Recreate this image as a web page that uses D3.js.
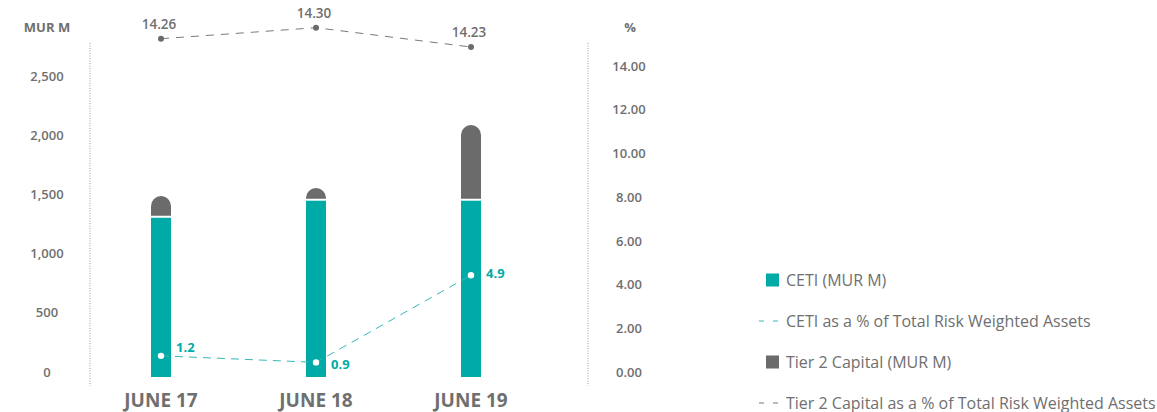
<!DOCTYPE html>
<html>
<head>
<meta charset="utf-8">
<script src="https://cdn.jsdelivr.net/npm/d3@7/dist/d3.min.js"></script>
<style>
  body { margin: 0; background: #fff; }
  text { font-family: "Open Sans", sans-serif; }
</style>
</head>
<body>
<div id="chart"></div>
<script>
// data
const periods = ["JUNE 17", "JUNE 18", "JUNE 19"];
const cetiValues = [1345, 1489, 1489];          // MUR M
const tier2Values = [184, 107, 639];            // MUR M
const cetiPct = [1.2, 0.9, 4.9];
const tier2Pct = [14.26, 14.30, 14.23];
const leftTicks = [0, 500, 1000, 1500, 2000, 2500];
const rightTicks = [0, 2, 4, 6, 8, 10, 12, 14];
const legendItems = [
  { label: "CETI (MUR M)", type: "box", color: "#00aaa6" },
  { label: "CETI as a % of Total Risk Weighted Assets", type: "dash", color: "#37b9b6" },
  { label: "Tier 2 Capital (MUR M)", type: "box", color: "#6b6b6b" },
  { label: "Tier 2 Capital as a % of Total Risk Weighted Assets", type: "dash", color: "#7a7a7a" }
];

var width = 1157, height = 412;
var teal = "#00aaa6", grey = "#6b6b6b", textGrey = "#6f6f6f";

var svg = d3.select("#chart").append("svg")
  .attr("width", width)
  .attr("height", height);

// scales
var x = d3.scalePoint().domain(periods).range([161, 471]);
var yL = d3.scaleLinear().domain([0, 2500]).range([377, 81]);
var yR = d3.scaleLinear().domain([0, 14]).range([377, 71]);
// the two % lines sit on their own (unlabelled) scales in the original
var yCeti = d3.scaleLinear().domain([0, 5]).range([382, 273]);
var yTier2 = d3.scaleLinear().domain([14.2, 14.3]).range([55.3, 27.7]);

var barW = 20;

// dotted axis lines
[90, 588].forEach(function (xx) {
  svg.append("line")
    .attr("x1", xx).attr("x2", xx)
    .attr("y1", 43).attr("y2", 386)
    .attr("stroke", "#9a9a9a")
    .attr("stroke-width", 1)
    .attr("stroke-dasharray", "1,1.5");
});

// left axis
var gL = svg.append("g").call(d3.axisLeft(yL).tickValues(leftTicks).tickSize(0).tickFormat(d3.format(",")));
gL.select(".domain").remove();
gL.selectAll("text")
  .attr("x", 47).attr("y", -5)
  .attr("text-anchor", "middle")
  .style("font-family", "'Open Sans', sans-serif")
  .style("font-size", "13px")
  .style("font-weight", 600)
  .attr("fill", textGrey);

// right axis
var gR = svg.append("g").call(d3.axisRight(yR).tickValues(rightTicks).tickSize(0).tickFormat(d3.format(".2f")));
gR.select(".domain").remove();
gR.selectAll("text")
  .attr("x", 629).attr("y", -5)
  .attr("text-anchor", "middle")
  .style("font-family", "'Open Sans', sans-serif")
  .style("font-size", "13px")
  .style("font-weight", 600)
  .attr("fill", textGrey);

// axis titles
svg.append("text").attr("x", 47).attr("y", 32).attr("text-anchor", "middle")
  .attr("font-size", 13).attr("font-weight", 700).attr("fill", textGrey).text("MUR M");
svg.append("text").attr("x", 630).attr("y", 32).attr("text-anchor", "middle")
  .attr("font-size", 13).attr("font-weight", 700).attr("fill", textGrey).text("%");

// category labels
svg.selectAll(".cat").data(periods).enter().append("text")
  .attr("class", "cat")
  .attr("x", function (d) { return x(d); })
  .attr("y", 407)
  .attr("text-anchor", "middle")
  .attr("font-size", 19).attr("font-weight", 700)
  .attr("fill", textGrey)
  .text(function (d) { return d; });

// CETI bars
svg.selectAll(".ceti").data(cetiValues).enter().append("rect")
  .attr("class", "ceti")
  .attr("x", function (d, i) { return x(periods[i]) - barW / 2; })
  .attr("y", function (d) { return yL(d); })
  .attr("width", barW)
  .attr("height", function (d) { return yL(0) - yL(d); })
  .attr("fill", teal);

// Tier 2 bars, stacked with a small white gap and rounded top
svg.selectAll(".tier2").data(tier2Values).enter().append("path")
  .attr("class", "tier2")
  .attr("fill", grey)
  .attr("d", function (d, i) {
    var x0 = x(periods[i]) - barW / 2, x1 = x0 + barW;
    var bottom = yL(cetiValues[i]) - 2;
    var top = yL(cetiValues[i] + d);
    var r = barW / 2;
    var ry = Math.min(r, bottom - top);
    return "M" + x0 + "," + bottom +
      "L" + x0 + "," + (top + ry) +
      "A" + r + "," + ry + " 0 0 1 " + x1 + "," + (top + ry) +
      "L" + x1 + "," + bottom + "Z";
  });

// CETI % line
var cetiLine = d3.line()
  .x(function (d, i) { return x(periods[i]); })
  .y(function (d) { return yCeti(d); });

svg.append("path")
  .datum(cetiPct)
  .attr("fill", "none")
  .attr("stroke", "#37b9b6")
  .attr("stroke-width", 1)
  .attr("stroke-dasharray", "8,6")
  .attr("d", cetiLine);

svg.selectAll(".cetiDot").data(cetiPct).enter().append("circle")
  .attr("cx", function (d, i) { return x(periods[i]); })
  .attr("cy", function (d) { return yCeti(d); })
  .attr("r", 3.2)
  .attr("fill", "#fff");

var cetiLabelDy = [-8, 2, -2];
svg.selectAll(".cetiLbl").data(cetiPct).enter().append("text")
  .attr("x", function (d, i) { return x(periods[i]) + 15; })
  .attr("y", function (d, i) { return yCeti(d) + cetiLabelDy[i] + 4.5; })
  .attr("font-size", 13).attr("font-weight", 700)
  .attr("fill", teal)
  .text(function (d) { return d.toFixed(1); });

// Tier 2 % line
var tier2Line = d3.line()
  .x(function (d, i) { return x(periods[i]); })
  .y(function (d) { return yTier2(d); });

svg.append("path")
  .datum(tier2Pct)
  .attr("fill", "none")
  .attr("stroke", "#7a7a7a")
  .attr("stroke-width", 1)
  .attr("stroke-dasharray", "8,7")
  .attr("d", tier2Line);

svg.selectAll(".t2Dot").data(tier2Pct).enter().append("circle")
  .attr("cx", function (d, i) { return x(periods[i]); })
  .attr("cy", function (d) { return yTier2(d); })
  .attr("r", 3)
  .attr("fill", grey);

svg.selectAll(".t2Lbl").data(tier2Pct).enter().append("text")
  .attr("x", function (d, i) { return x(periods[i]) - 2; })
  .attr("y", function (d) { return yTier2(d) - 10; })
  .attr("text-anchor", "middle")
  .attr("font-size", 13.5).attr("font-weight", 600)
  .attr("fill", textGrey)
  .text(function (d) { return d.toFixed(2); });

// legend
var legendY = [280, 321, 362, 403];
var legend = svg.selectAll(".legend").data(legendItems).enter().append("g")
  .attr("class", "legend")
  .attr("transform", function (d, i) { return "translate(0," + legendY[i] + ")"; });

legend.filter(function (d) { return d.type === "box"; }).append("rect")
  .attr("x", 766).attr("y", -6.5)
  .attr("width", 13).attr("height", 13)
  .attr("fill", function (d) { return d.color; });

legend.filter(function (d) { return d.type === "dash"; }).append("line")
  .attr("x1", 759).attr("x2", 780)
  .attr("y1", 0).attr("y2", 0)
  .attr("stroke", function (d) { return d.color; })
  .attr("stroke-width", 1.2)
  .attr("stroke-dasharray", "5,9");

legend.append("text")
  .attr("x", 786).attr("y", 5.5)
  .attr("font-size", 16)
  .attr("fill", textGrey)
  .text(function (d) { return d.label; });
</script>
</body>
</html>
